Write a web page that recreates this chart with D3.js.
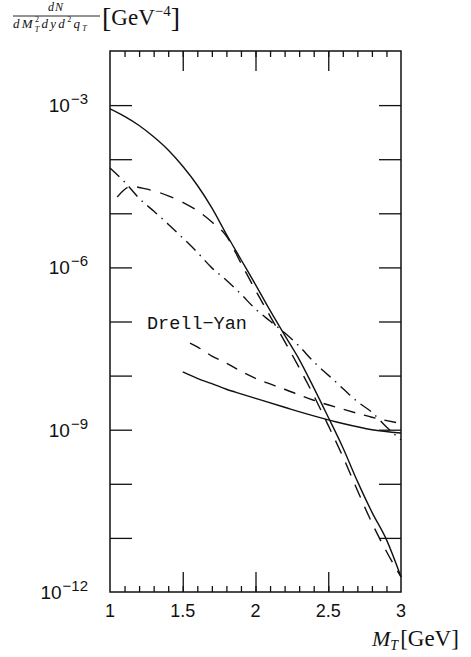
<!DOCTYPE html>
<html>
<head>
<meta charset="utf-8">
<script src="https://cdn.jsdelivr.net/npm/d3@7/dist/d3.min.js"></script>
<style>
    body { margin: 0; background: #fff; }
    svg { display: block; }
    .frame { fill: none; stroke: #111; stroke-width: 1.5; }
    .curve { fill: none; stroke: #111; stroke-width: 1.4; }
    .axis line { stroke: #111; stroke-width: 1.3; }
    .axis path { display: none; }
    .num { font-family: "Liberation Sans", Arial, sans-serif; fill: #111; }
    .tex { font-family: "Liberation Serif", "DejaVu Serif", serif; fill: #111; }
    .mono { font-family: "Liberation Mono", "DejaVu Sans Mono", monospace; fill: #111; }
</style>
</head>
<body>
<svg id="chart" width="471" height="657"></svg>
<script>
// M_T grid in GeV
const mtFull = [1.0, 1.1, 1.2, 1.3, 1.4, 1.5, 1.6, 1.7, 1.8, 1.9, 2.0,
                2.1, 2.2, 2.3, 2.4, 2.5, 2.6, 2.7, 2.8, 2.9, 3.0];
const mtDashed = [1.05, 1.1, 1.15, 1.2, 1.3, 1.4, 1.5, 1.6, 1.7, 1.8, 1.9, 2.0,
                  2.1, 2.2, 2.3, 2.4, 2.5, 2.6, 2.7, 2.8, 2.9, 3.0];
const mtDyDashed = [1.55, 1.6, 1.7, 1.8, 1.9, 2.0, 2.2, 2.4, 2.6, 2.8, 3.0];
const mtDySolid = [1.5, 1.6, 1.7, 1.8, 1.9, 2.0, 2.2, 2.4, 2.6, 2.8, 3.0];

// dN / dM_T^2 dy d^2q_T  [GeV^-4]
const upperSolid = [8.5e-4, 6.2e-4, 4.2e-4, 2.6e-4, 1.48e-4, 7.4e-5, 3.3e-5, 1.26e-5, 4.1e-6, 1.4e-6, 4.8e-7,
                    1.6e-7, 5.6e-8, 2.0e-8, 6.0e-9, 1.7e-9, 4.7e-10, 1.12e-10, 3.0e-11, 9.3e-12, 1.9e-12];
const upperDashed = [2.0e-5, 2.75e-5, 3.2e-5, 3.0e-5, 2.6e-5, 2.1e-5, 1.6e-5, 1.12e-5, 6.9e-6, 3.8e-6, 1.2e-6, 3.8e-7,
                     1.26e-7, 4.3e-8, 1.4e-8, 4.3e-9, 1.2e-9, 3.2e-10, 7.6e-11, 1.9e-11, 5.6e-12, 1.9e-12];
const upperDashDot = [6.9e-5, 3.8e-5, 1.9e-5, 1.1e-5, 6.3e-6, 3.5e-6, 1.9e-6, 9.8e-7, 5.8e-7, 3.2e-7, 1.7e-7,
                      1.02e-7, 6.2e-8, 3.5e-8, 1.8e-8, 1.02e-8, 5.8e-9, 3.3e-9, 2.1e-9, 1.12e-9, 6.5e-10];
const dyDashed = [4.0e-8, 3.4e-8, 2.3e-8, 1.7e-8, 1.2e-8, 8.9e-9, 5.6e-9, 3.5e-9, 2.4e-9, 1.7e-9, 1.3e-9];
const dySolid = [1.17e-8, 8.9e-9, 7.1e-9, 5.6e-9, 4.6e-9, 3.8e-9, 2.6e-9, 1.8e-9, 1.3e-9, 1.0e-9, 8.7e-10];

const xLabels = ["1", "1.5", "2", "2.5", "3"];
const xMajor = [1.5, 2, 2.5];
const yDecades = [1e-11, 1e-10, 1e-9, 1e-8, 1e-7, 1e-6, 1e-5, 1e-4, 1e-3];
const yLabelled = [1e-3, 1e-6, 1e-9, 1e-12];
const yExponents = ["−3", "−6", "−9", "−12"];

const plot = { left: 110, right: 401, top: 51, bottom: 592 };

const svg = d3.select("#chart");
const x = d3.scaleLinear().domain([1, 3]).range([plot.left, plot.right]);
const y = d3.scaleLog().domain([1e-12, 1e-2]).range([plot.bottom, plot.top]);

// ticks (all pointing inward)
const minor = x.ticks(20).filter(v => v > 1 && v < 3);

svg.append("g").attr("class", "axis")
    .attr("transform", "translate(0," + plot.bottom + ")")
    .call(d3.axisBottom(x).tickValues(minor).tickSize(-6).tickFormat(""));
svg.append("g").attr("class", "axis")
    .attr("transform", "translate(0," + plot.bottom + ")")
    .call(d3.axisBottom(x).tickValues(xMajor).tickSize(-20).tickFormat(""));
svg.append("g").attr("class", "axis")
    .attr("transform", "translate(0," + plot.top + ")")
    .call(d3.axisTop(x).tickValues(minor).tickSize(-6).tickFormat(""));
svg.append("g").attr("class", "axis")
    .attr("transform", "translate(0," + plot.top + ")")
    .call(d3.axisTop(x).tickValues(xMajor).tickSize(-20).tickFormat(""));
svg.append("g").attr("class", "axis")
    .attr("transform", "translate(" + plot.left + ",0)")
    .call(d3.axisLeft(y).tickValues(yDecades).tickSize(-22).tickFormat(""));
svg.append("g").attr("class", "axis")
    .attr("transform", "translate(" + plot.right + ",0)")
    .call(d3.axisRight(y).tickValues(yDecades).tickSize(-22).tickFormat(""));

svg.append("rect").attr("class", "frame")
    .attr("x", plot.left).attr("y", plot.top)
    .attr("width", plot.right - plot.left)
    .attr("height", plot.bottom - plot.top);

// tick labels
svg.selectAll(".xlab").data(xLabels).enter().append("text")
    .attr("class", "num xlab")
    .attr("x", d => x(+d))
    .attr("y", plot.bottom + 25)
    .attr("text-anchor", "middle")
    .attr("font-size", 18)
    .text(d => d);

const ylab = svg.selectAll(".ylab").data(yLabelled).enter().append("text")
    .attr("class", "num ylab")
    .attr("x", 88)
    .attr("y", d => y(d) + 7)
    .attr("text-anchor", "end")
    .attr("font-size", 19);
ylab.append("tspan").text("10");
ylab.append("tspan").attr("font-size", 15).attr("dx", 1).attr("dy", -8)
    .text((d, i) => yExponents[i]);

// curves
const line = d3.line()
    .x(d => x(d[0]))
    .y(d => y(d[1]))
    .curve(d3.curveMonotoneX);

const curves = [
    { xs: mtFull, ys: upperSolid, dash: null },
    { xs: mtDashed, ys: upperDashed, dash: "14,10" },
    { xs: mtFull, ys: upperDashDot, dash: "13,6,1.5,6" },
    { xs: mtDyDashed, ys: dyDashed, dash: "12,9" },
    { xs: mtDySolid, ys: dySolid, dash: null }
];

svg.selectAll(".curve").data(curves).enter().append("path")
    .attr("class", "curve")
    .attr("d", c => line(d3.zip(c.xs, c.ys)))
    .attr("stroke-dasharray", c => c.dash);

svg.append("text").attr("class", "mono")
    .attr("x", 147).attr("y", 329)
    .attr("font-size", 18.5)
    .text("Drell−Yan");

// y title: dN / dM_T^2 dy d^2 q_T [GeV^-4]
svg.append("text").attr("class", "tex")
    .attr("x", 56).attr("y", 11)
    .attr("text-anchor", "middle")
    .attr("font-size", 12).attr("font-style", "italic")
    .attr("letter-spacing", 1)
    .text("dN");
svg.append("line")
    .attr("x1", 13).attr("x2", 100)
    .attr("y1", 16).attr("y2", 16)
    .attr("stroke", "#111").attr("stroke-width", 0.9);

const den = svg.append("text").attr("class", "tex")
    .attr("x", 13).attr("y", 28)
    .attr("font-size", 13).attr("font-style", "italic")
    .attr("letter-spacing", 2.3);
den.append("tspan").text("dM");
den.append("tspan").attr("font-size", 8).attr("font-style", "normal").attr("dy", -6).text("2");
den.append("tspan").attr("font-size", 8).attr("dx", -6.5).attr("dy", 10).text("T");
den.append("tspan").attr("dx", 0).attr("dy", -4).text("dyd");
den.append("tspan").attr("font-size", 8).attr("font-style", "normal").attr("dy", -6).text("2");
den.append("tspan").attr("dy", 6).text("q");
den.append("tspan").attr("font-size", 8).attr("dy", 3).text("T");

const unit = svg.append("text").attr("class", "tex")
    .attr("x", 102).attr("y", 25)
    .attr("font-size", 23);
unit.append("tspan").attr("font-size", 28).attr("dy", 2).text("[");
unit.append("tspan").attr("dy", -2).text("GeV");
unit.append("tspan").attr("font-size", 15).attr("dy", -9).text("−4");
unit.append("tspan").attr("font-size", 28).attr("dy", 11).text("]");

// x title: M_T [GeV]
const xt = svg.append("text").attr("class", "tex")
    .attr("x", 372).attr("y", 646)
    .attr("font-size", 23);
xt.append("tspan").attr("font-style", "italic").attr("font-size", 22).text("M");
xt.append("tspan").attr("font-style", "italic").attr("font-size", 14).attr("dy", 4).text("T");
xt.append("tspan").attr("dx", 2).attr("dy", -4).text("[GeV]");
</script>
</body>
</html>
